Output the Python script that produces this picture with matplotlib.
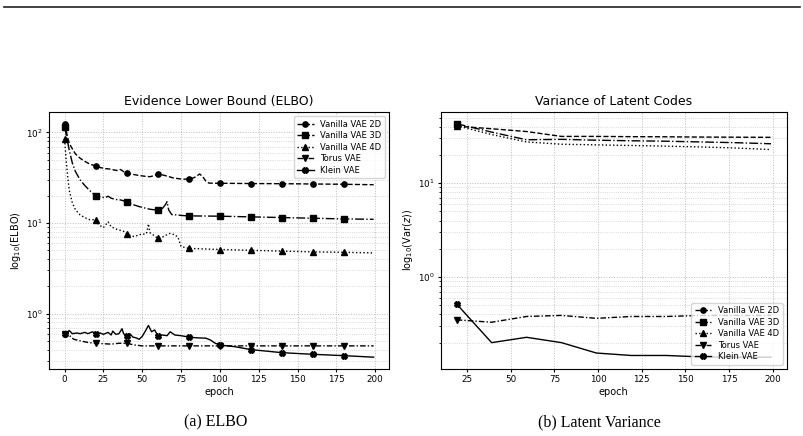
import matplotlib
matplotlib.use("Agg")
import matplotlib.pyplot as plt
from matplotlib.lines import Line2D

# ---- (a) ELBO per epoch ----
ep_2d = [0, 1, 2, 3, 5, 7, 10, 13, 16, 20, 23, 26, 29, 32, 34, 36, 38, 40, 44, 48, 52, 55, 58,
         60, 63, 66, 70, 74, 77, 80, 83, 85, 87, 89, 91, 93, 100, 120, 140, 160, 180, 199]
elbo_2d = [125, 105, 88, 76, 66, 58, 52, 48, 45, 42.6, 41, 40, 39.5, 38.5, 38, 39, 37, 35.5, 34.5,
           33.5, 32.8, 32.5, 33.5, 35, 34, 33, 31.5, 30.8, 30.5, 30.7, 31.5, 33, 34.8, 32.5, 29,
           27.6, 27.5, 27.3, 27.2, 27.0, 26.8, 26.5]

ep_3d = [0, 1, 2, 3, 5, 7, 10, 13, 16, 20, 23, 26, 28, 30, 33, 36, 38, 40, 44, 48, 52, 55, 58,
         60, 63, 65, 66, 67, 69, 72, 76, 80, 100, 120, 140, 160, 180, 199]
elbo_3d = [115, 95, 78, 64, 46, 37, 30, 26, 23, 20, 19.5, 19, 19.8, 18.8, 18.2, 18, 17.6, 17,
           16, 15.2, 14.6, 14.2, 14, 14, 14.5, 16, 17.2, 14, 12.4, 12.3, 12.1, 12.0, 11.9, 11.7,
           11.5, 11.3, 11.1, 11.0]

ep_4d = [0, 1, 2, 3, 5, 7, 10, 13, 16, 20, 22, 25, 28, 30, 33, 35, 38, 40, 43, 45, 48, 50, 52,
         53, 54, 55, 57, 60, 63, 65, 68, 71, 73, 75, 80, 100, 120, 140, 160, 180, 199]
elbo_4d = [84, 50, 32.5, 23, 16.7, 14, 12.3, 11.5, 10.9, 10.9, 9.6, 8.9, 10.3, 9.1, 8.6, 8.4, 8.1,
           7.6, 7.2, 7.1, 7.4, 7.6, 7.5, 7.9, 9.8, 7.8, 7.4, 6.8, 7.0, 7.3, 7.7, 7.4, 7.0, 5.5,
           5.25, 5.1, 5.0, 4.9, 4.8, 4.75, 4.68]

ep_torus = [0, 2, 4, 6, 10, 15, 20, 25, 30, 35, 40, 45, 50, 60, 80, 100, 120, 140, 160, 180, 199]
elbo_torus = [0.59, 0.62, 0.55, 0.52, 0.5, 0.48, 0.47, 0.465, 0.46, 0.47, 0.47, 0.45, 0.44,
              0.44, 0.44, 0.44, 0.44, 0.44, 0.44, 0.44, 0.44]

ep_klein = [0, 2, 3, 5, 8, 10, 13, 15, 18, 20, 23, 25, 28, 30, 31, 33, 35, 37, 38, 40, 42, 44,
            46, 48, 50, 52, 54, 56, 58, 60, 63, 66, 68, 71, 75, 80, 85, 91, 94, 97, 100, 110,
            120, 130, 140, 160, 180, 199]
elbo_klein = [0.6, 0.62, 0.65, 0.6, 0.61, 0.6, 0.62, 0.6, 0.63, 0.59, 0.61, 0.59, 0.62, 0.58,
              0.64, 0.59, 0.6, 0.68, 0.6, 0.57, 0.6, 0.55, 0.54, 0.52, 0.56, 0.64, 0.74, 0.63,
              0.66, 0.57, 0.58, 0.57, 0.63, 0.58, 0.57, 0.55, 0.54, 0.535, 0.51, 0.47, 0.45,
              0.43, 0.40, 0.385, 0.37, 0.355, 0.343, 0.33]

# ---- (b) latent variance, logged every 20 epochs ----
ep_var = [19, 39, 59, 79, 99, 119, 139, 159, 179, 199]
var_2d = [40.5, 38, 35.5, 31.5, 31.5, 31.3, 31.2, 31.0, 30.9, 30.8]
var_3d = [43, 35, 29, 29.3, 28.7, 28.3, 28, 27.5, 27, 26.3]
var_4d = [41, 33, 27.5, 26, 25.6, 25.2, 24.8, 24.3, 23.7, 22.8]
var_torus = [0.35, 0.33, 0.38, 0.39, 0.363, 0.38, 0.38, 0.39, 0.39, 0.39]
var_klein = [0.515, 0.20, 0.228, 0.20, 0.155, 0.146, 0.146, 0.141, 0.14, 0.14]

LABELS = ["Vanilla VAE 2D", "Vanilla VAE 3D", "Vanilla VAE 4D", "Torus VAE", "Klein VAE"]
STYLES = [("--", "o"), ("-.", "s"), (":", "^"), ((0, (4, 1.5, 1, 1.5)), "v"), ("-", "X")]


def draw(ax, series, title, ylabel, legend_loc, per_epoch):
    for (x, y), lab, (ls, mk) in zip(series, LABELS, STYLES):
        # markevery=20 on per-epoch logs -> every 20th epoch; on the sparse log only the first point
        marks = [i for i, e in enumerate(x) if e % 20 == 0] if per_epoch else 20
        ax.plot(x, y, color="black", ls=ls, lw=1.0, marker=mk, ms=3.8, markevery=marks, label=lab)
    ax.set_yscale("log")
    ax.grid(True, which="major", ls=":", color="#bbbbbb", lw=0.7)
    ax.grid(True, which="minor", axis="y", ls=":", color="#cccccc", lw=0.6)
    ax.set_title(title, fontsize=9, pad=5)
    ax.set_xlabel("epoch", fontsize=7, labelpad=2)
    ax.set_ylabel(ylabel, fontsize=7, labelpad=2)
    ax.tick_params(labelsize=6.3, length=2.5, pad=2)
    ax.tick_params(which="minor", length=1.5)
    ax.legend(loc=legend_loc, fontsize=6, handlelength=2.0, borderpad=0.4, labelspacing=0.3)


fig = plt.figure(figsize=(8.04, 4.36), dpi=100)
ax1 = fig.add_axes([0.061, 0.154, 0.423, 0.589])
ax2 = fig.add_axes([0.5485, 0.154, 0.430, 0.589])

draw(ax1, [(ep_2d, elbo_2d), (ep_3d, elbo_3d), (ep_4d, elbo_4d), (ep_torus, elbo_torus),
           (ep_klein, elbo_klein)],
     "Evidence Lower Bound (ELBO)", r"log$_{10}$(ELBO)", "upper right", True)
ax1.set_xlim(-10, 209)
draw(ax2, [(ep_var, var_2d), (ep_var, var_3d), (ep_var, var_4d), (ep_var, var_torus),
           (ep_var, var_klein)],
     "Variance of Latent Codes", r"log$_{10}$(Var($z$))", "lower right", False)

# paper-style caption and top rule
fig.text(0.268, 0.032, "(a) ELBO", ha="center", va="center", fontsize=11.5, family="Liberation Serif")
fig.text(0.745, 0.032, "(b) Latent Variance", ha="center", va="center", fontsize=11.5,
         family="Liberation Serif")
fig.add_artist(Line2D([0.005, 0.995], [0.984, 0.984], color="#222222", lw=1.2,
                      transform=fig.transFigure))

fig.savefig("out.png", dpi=100)
